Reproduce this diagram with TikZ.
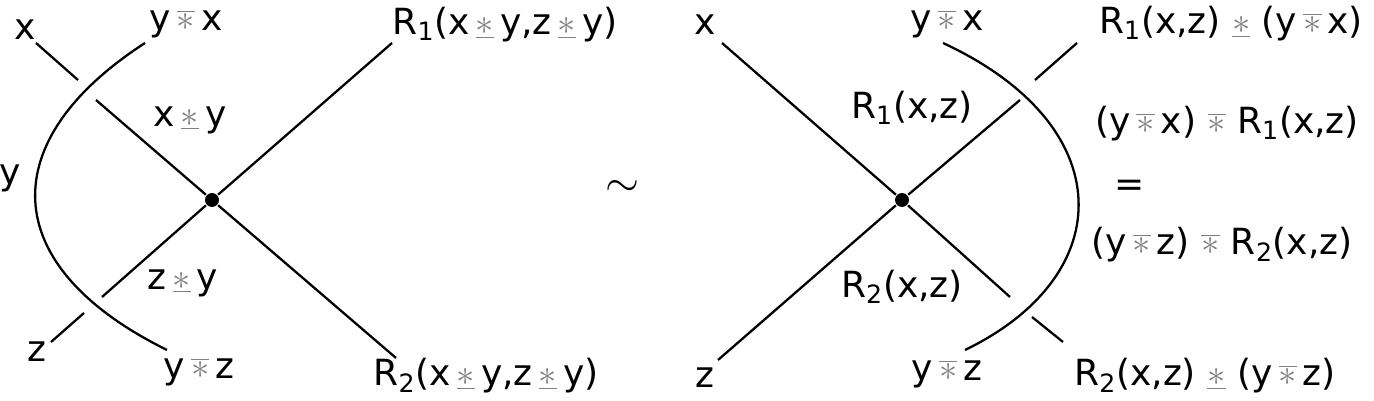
\documentclass[tikz,border=0pt]{standalone}
\usepackage{fontspec}
\setmainfont{DejaVu Sans}
\newcommand\us{\textcolor{gray}{$\underline{\ast}$}}
\newcommand\os{\textcolor{gray}{$\overline{\ast}$}}
\newcommand\sub[1]{\textsubscript{#1}}
\begin{document}
\begin{tikzpicture}[x=0.02cm,y=-0.02cm,line width=1.3pt,
  lab/.style={font=\fontsize{20.5}{22}\selectfont,inner sep=0pt}]
\useasboundingbox (0,0) rectangle (1374,401);
% left
\node[circle,fill,inner sep=2.8pt] (v1) at (212,200) {};
\coordinate (xa) at (36,43); \coordinate (xb) at (78,80);
\coordinate (xc) at (96,100); \coordinate (r2) at (396,358);
\coordinate (za) at (51,342); \coordinate (zb) at (84,313);
\coordinate (zc) at (102,297); \coordinate (r1) at (392,43);
\draw (xa)--(xb); \draw (xc)--(v1)--(r2);
\draw (za)--(zb); \draw (zc)--(v1)--(r1);
\draw (145,43) .. controls (-5,140) and (-5,265) .. (167,350);
\node[lab] (lx) at (25,30) {x};
\node[lab] (l1) at (186,24) {y\,\os\,x};
\node[lab] (l2) at (505,25) {R\sub{1}(x\,\us\,y,z\,\us\,y)};
\node[lab] (l3) at (190,120) {x\,\us\,y};
\node[lab] (ly) at (10,178) {y};
\node[lab] (l4) at (183,283) {z\,\us\,y};
\node[lab] (lz) at (37,352) {z};
\node[lab] (l5) at (199,372) {y\,\os\,z};
\node[lab] (l6) at (486,376) {R\sub{2}(x\,\us\,y,z\,\us\,y)};
\node[lab,font=\fontsize{36}{36}\selectfont] (t) at (622,188) {$\sim$};
% right
\node[circle,fill,inner sep=2.8pt] (v2) at (902,200) {};
\coordinate (rx) at (722,43); \coordinate (rxb) at (1010,297);
\coordinate (rxc) at (1032,317); \coordinate (rxd) at (1063,342);
\coordinate (rz) at (718,360); \coordinate (rzb) at (1020,100);
\coordinate (rzc) at (1035,80); \coordinate (rzd) at (1077,43);
\draw (rx)--(v2)--(rxb); \draw (rxc)--(rxd);
\draw (rz)--(v2)--(rzb); \draw (rzc)--(rzd);
\draw (943,43) .. controls (1120,125) and (1120,275) .. (965,350);
\node[lab] (m1) at (705,25) {x};
\node[lab] (m2) at (947,24) {y\,\os\,x};
\node[lab] (m3) at (1231,24) {R\sub{1}(x,z) \us{} (y\,\os\,x)};
\node[lab] (m4) at (912,108) {R\sub{1}(x,z)};
\node[lab] (m5) at (1227,124) {(y\,\os\,x) \os{} R\sub{1}(x,z)};
\node[lab] (m6) at (1130,188) {=};
\node[lab] (m7) at (1222,245) {(y\,\os\,z) \os{} R\sub{2}(x,z)};
\node[lab] (m8) at (902,287) {R\sub{2}(x,z)};
\node[lab] (m9) at (705,378) {z};
\node[lab] (m10) at (947,374) {y\,\os\,z};
\node[lab] (m11) at (1205,376) {R\sub{2}(x,z) \us{} (y\,\os\,z)};
\end{tikzpicture}
\end{document}
